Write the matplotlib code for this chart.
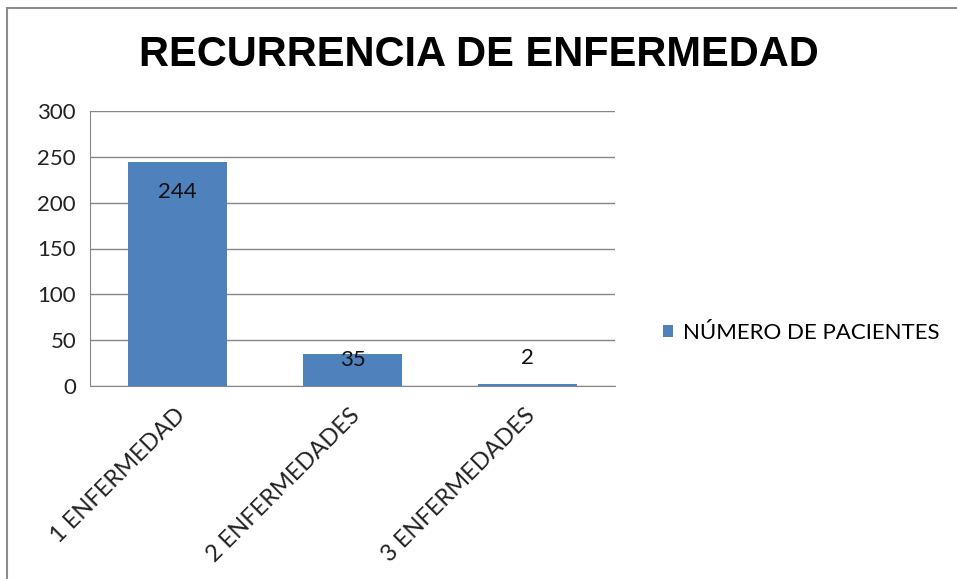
import matplotlib.pyplot as plt
from matplotlib.patches import Rectangle
from matplotlib.transforms import ScaledTranslation

# datos
categorias = ["1 ENFERMEDAD", "2 ENFERMEDADES", "3 ENFERMEDADES"]
pacientes = [244, 35, 2]
serie = "NÚMERO DE PACIENTES"
y_ticks = [0, 50, 100, 150, 200, 250, 300]

W, H = 957, 579
fig = plt.figure(figsize=(W / 100, H / 100), dpi=100)

# marco del grafico
fig.patches.append(Rectangle((7.5 / W, -0.1), 2, 1.1 - 8.5 / H,
                             transform=fig.transFigure, fill=False,
                             edgecolor="#8c8c8c", linewidth=1.5))

ax = fig.add_axes([90 / W, (H - 386) / H, 525 / W, 275 / H])

x = range(len(categorias))
bars = ax.bar(x, pacientes, width=0.57, color="#4F81BD", label=serie, zorder=3)

ax.set_xlim(-0.5, len(categorias) - 0.5)
ax.set_ylim(0, 300)
ax.set_yticks(y_ticks)
ax.yaxis.grid(True, color="#868686", linewidth=1, zorder=0)

for s in ["top", "right"]:
    ax.spines[s].set_visible(False)
for s in ["left", "bottom"]:
    ax.spines[s].set_color("#868686")
ax.tick_params(length=0, labelsize=16, colors="#222222")
ax.tick_params(axis="y", pad=10)
ax.tick_params(axis="x", pad=6)

ax.set_xticks(list(x))
ax.set_xticklabels(categorias, rotation=45, ha="right", rotation_mode="anchor",
                   fontsize=17, family="Lato")
desplaza = ScaledTranslation(-3 / 100, -10 / 100, fig.dpi_scale_trans)
for lab in ax.get_xticklabels():
    lab.set_transform(lab.get_transform() + desplaza)
for lab in ax.get_yticklabels():
    lab.set_family("Lato")

# etiquetas de datos
offsets = [-30, -6, 26]
for b, v, off in zip(bars, pacientes, offsets):
    ax.annotate(str(v), (b.get_x() + b.get_width() / 2, v),
                xytext=(0, off * 0.72), textcoords="offset points",
                ha="center", va="center", fontsize=16, family="Lato",
                color="#111111", zorder=4)

fig.text(0.5, 1 - 55 / H, "RECURRENCIA DE ENFERMEDAD", ha="center", va="center",
         fontsize=30, fontweight="bold", family="Liberation Sans")

fig.legend(loc="center left", bbox_to_anchor=(643 / W, 1 - 333 / H),
           frameon=False, handlelength=0.45, handleheight=0.45, handletextpad=0.45,
           prop={"family": "Lato", "size": 16})

fig.savefig("out.png", dpi=100)
